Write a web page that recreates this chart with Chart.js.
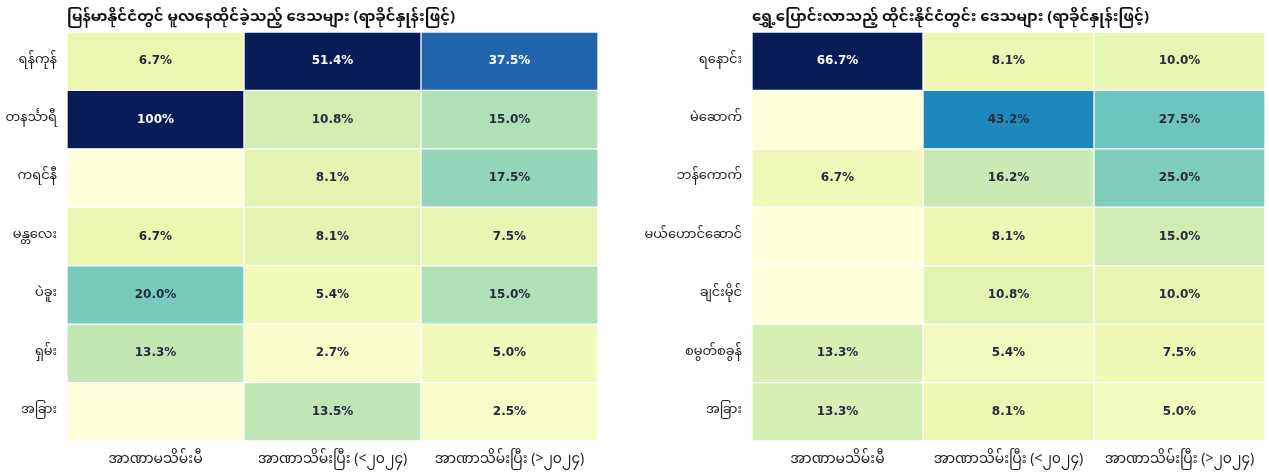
<!DOCTYPE html>
<html>
<head>
<meta charset="utf-8">
<script src="https://cdn.jsdelivr.net/npm/chart.js@4"></script>
<style>
  body { margin: 0; background: #fff; }
  #wrap { position: relative; width: 1269px; height: 473px; }
  #leftBox { position: absolute; left: 0; top: 0; width: 620px; height: 473px; }
  #rightBox { position: absolute; left: 620px; top: 0; width: 649px; height: 473px; }
</style>
</head>
<body>
<div id="wrap">
  <div id="leftBox"><canvas id="leftChart"></canvas></div>
  <div id="rightBox"><canvas id="rightChart"></canvas></div>
</div>
<script>
// Heatmaps: origin regions in Myanmar / destination regions in Thailand (%)

const colLabels = ['အာဏာမသိမ်းမီ', 'အာဏာသိမ်းပြီး (<၂၀၂၄)', 'အာဏာသိမ်းပြီး (>၂၀၂၄)'];

const leftTitle = 'မြန်မာနိုင်ငံတွင် မူလနေထိုင်ခဲ့သည့် ဒေသများ (ရာခိုင်နှုန်းဖြင့်)';
const leftRows = ['ရန်ကုန်', 'တနင်္သာရီ', 'ကရင်နီ', 'မန္တလေး', 'ပဲခူး', 'ရှမ်း', 'အခြား'];
const leftBefore = [6.7, 100, 0, 6.7, 20.0, 13.3, 0];
const leftMid = [51.4, 10.8, 8.1, 8.1, 5.4, 2.7, 13.5];
const leftAfter = [37.5, 15.0, 17.5, 7.5, 15.0, 5.0, 2.5];

const rightTitle = 'ရွှေ့ပြောင်းလာသည့် ထိုင်းနိုင်ငံတွင်း ဒေသများ (ရာခိုင်နှုန်းဖြင့်)';
const rightRows = ['ရနောင်း', 'မဲဆောက်', 'ဘန်ကောက်', 'မယ်ဟောင်ဆောင်', 'ချင်းမိုင်', 'စမွတ်စခွန်', 'အခြား'];
const rightBefore = [66.7, 0, 6.7, 0, 0, 13.3, 13.3];
const rightMid = [8.1, 43.2, 16.2, 8.1, 10.8, 5.4, 8.1];
const rightAfter = [10.0, 27.5, 25.0, 15.0, 10.0, 7.5, 5.0];

const mmFont = '"Noto Sans Myanmar", "Noto Sans Myanmar UI", "Padauk", "Myanmar Text", "Noto Sans", sans-serif';

// YlGnBu colour map
const stops = ['#ffffd9', '#edf8b1', '#c7e9b4', '#7fcdbb', '#41b6c4', '#1d91c0', '#225ea8', '#253494', '#081d58'];
function hex(h) {
  return [parseInt(h.slice(1, 3), 16), parseInt(h.slice(3, 5), 16), parseInt(h.slice(5, 7), 16)];
}
function ylgnbu(t) {
  t = Math.max(0, Math.min(1, t));
  const p = t * (stops.length - 1);
  const i = Math.min(Math.floor(p), stops.length - 2);
  const f = p - i;
  const a = hex(stops[i]), b = hex(stops[i + 1]);
  const c = a.map((v, k) => Math.round(v + (b[k] - v) * f));
  return 'rgb(' + c.join(',') + ')';
}

const cellLabels = {
  id: 'cellLabels',
  afterDatasetsDraw(chart) {
    const ctx = chart.ctx;
    const vmax = chart.options.plugins.cellLabels.vmax;
    ctx.save();
    ctx.font = 'bold 12px "DejaVu Sans", sans-serif';
    ctx.textAlign = 'center';
    ctx.textBaseline = 'middle';
    chart.data.datasets.forEach((ds, d) => {
      chart.getDatasetMeta(d).data.forEach((bar, i) => {
        const v = ds.values[i];
        if (!v) return;
        const c = bar.getCenterPoint();
        ctx.fillStyle = v / vmax > 0.7 ? '#ffffff' : '#262b3d';
        ctx.fillText(v === 100 ? '100%' : v.toFixed(1) + '%', c.x, c.y);
      });
    });
    ctx.restore();
  }
};

const panelTitle = {
  id: 'panelTitle',
  afterDraw(chart) {
    const ctx = chart.ctx;
    ctx.save();
    ctx.font = 'bold 15px ' + mmFont;
    ctx.fillStyle = '#111';
    ctx.textAlign = 'left';
    ctx.textBaseline = 'alphabetic';
    ctx.fillText(chart.options.plugins.panelTitle.text, chart.chartArea.left, 21);
    ctx.restore();
  }
};

function makeHeatmap(id, title, rows, cols, vmax, yWidth, padRight) {
  const datasets = cols.map((vals, c) => ({
    label: colLabels[c],
    values: vals,
    data: rows.map(() => [c, c + 1]),
    backgroundColor: vals.map(v => ylgnbu(v / vmax)),
    borderColor: '#ffffff',
    borderWidth: 1,
    borderSkipped: false,
    grouped: false,
    barPercentage: 1,
    categoryPercentage: 1
  }));

  return new Chart(document.getElementById(id), {
    type: 'bar',
    data: { labels: rows, datasets: datasets },
    options: {
      indexAxis: 'y',
      responsive: true,
      maintainAspectRatio: false,
      animation: false,
      layout: { padding: { top: 32, right: padRight, bottom: 0, left: 0 } },
      scales: {
        y: {
          grid: { display: false },
          border: { display: false },
          ticks: { color: '#222', padding: 2, font: { family: mmFont, size: 13 } },
          afterFit(scale) { scale.width = yWidth; }
        },
        x: {
          min: 0,
          max: 3,
          grid: { display: false },
          border: { display: false },
          afterBuildTicks(axis) {
            axis.ticks = [{ value: 0.5 }, { value: 1.5 }, { value: 2.5 }];
          },
          ticks: {
            color: '#222',
            padding: 4,
            maxRotation: 0,
            autoSkip: false,
            font: { family: mmFont, size: 14 },
            callback: v => colLabels[Math.floor(v)]
          },
          afterFit(scale) { scale.height = 32; }
        }
      },
      plugins: {
        legend: { display: false },
        tooltip: { enabled: false },
        cellLabels: { vmax: vmax },
        panelTitle: { text: title }
      }
    },
    plugins: [cellLabels, panelTitle]
  });
}

makeHeatmap('leftChart', leftTitle, leftRows, [leftBefore, leftMid, leftAfter], 51.4, 67, 22);
makeHeatmap('rightChart', rightTitle, rightRows, [rightBefore, rightMid, rightAfter], 66.7, 132, 4);
</script>
</body>
</html>
